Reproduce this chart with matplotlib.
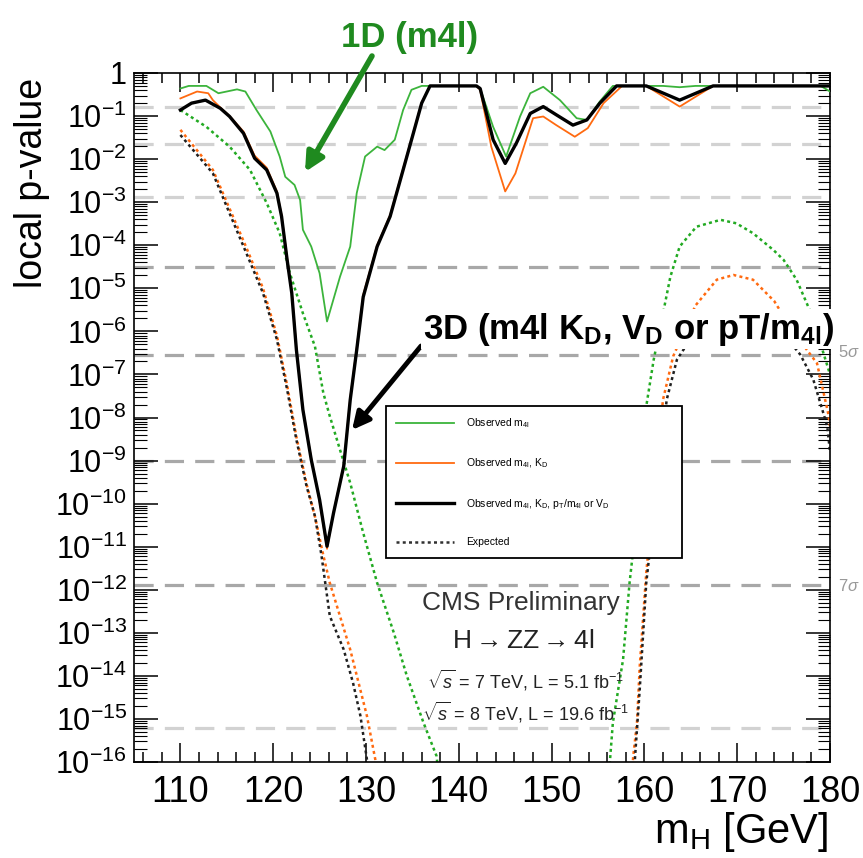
import matplotlib
matplotlib.use('Agg')
import matplotlib.pyplot as plt
from matplotlib.ticker import FixedLocator, LogLocator, NullFormatter, MultipleLocator
import numpy as np

plt.rcParams['font.family'] = ['Liberation Sans', 'DejaVu Sans']
plt.rcParams['mathtext.fontset'] = 'custom'
plt.rcParams['mathtext.rm'] = 'Liberation Sans'
plt.rcParams['mathtext.it'] = 'Liberation Sans:italic'
plt.rcParams['mathtext.bf'] = 'Liberation Sans:bold'

# observed m4l only (log10 of local p-value)
mh_obs1 = [110, 110.9, 112.8, 114.1, 116.1, 117.0, 118.2, 119.7, 120.7, 121.3, 122.3, 122.9,
           123.2, 124.1, 125.0, 125.8, 127.2, 128.3, 129.0, 129.9, 131.2, 132.0, 133.1, 134.0,
           134.9, 136.0, 141.9, 142.3, 143.7, 145.1, 146.6, 147.7, 149.1, 150.9, 152.7, 153.8,
           155.2, 156.6, 162.0, 163.8, 165.5, 179.0, 180]
lp_obs1 = [-0.36, -0.30, -0.30, -0.47, -0.38, -0.43, -0.86, -1.36, -1.94, -2.41, -2.60, -2.95,
           -3.64, -4.03, -4.65, -5.77, -4.73, -4.03, -2.79, -1.94, -1.71, -1.79, -1.55, -0.86,
           -0.39, -0.30, -0.30, -0.36, -1.25, -1.94, -1.01, -0.47, -0.32, -0.63, -1.05, -1.09,
           -0.66, -0.30, -0.30, -0.33, -0.30, -0.30, -0.43]

# observed m4l, KD
mh_obs2 = [110, 111.8, 113.0, 113.5, 114.3, 115.3, 116.8, 118.0, 119.3, 120.4, 120.9, 121.5,
           122.0, 122.5, 123.2, 124.1, 125.0, 125.8, 126.5, 127.6, 128.3, 129.0, 129.7, 131.2,
           132.6, 134.0, 135.1, 136.0, 136.9, 141.9, 142.3, 143.5, 145.0, 146.1, 148.0, 149.1,
           150.5, 152.5, 153.9, 155.6, 157.6, 160.2, 163.8, 167.4, 180]
lp_obs2 = [-0.59, -0.43, -0.47, -0.63, -0.80, -1.00, -1.36, -1.92, -2.20, -2.75, -3.30, -4.30,
           -5.05, -6.40, -7.80, -8.95, -9.95, -11.05, -10.20, -9.10, -7.55, -6.38, -5.15, -4.00,
           -3.30, -2.22, -1.38, -0.68, -0.30, -0.30, -0.39, -1.71, -2.75, -2.33, -1.05, -1.01,
           -1.21, -1.48, -1.28, -0.70, -0.30, -0.30, -0.78, -0.30, -0.30]

# observed m4l, KD, pT/m4l or VD
mh_obs3 = [110, 111.2, 112.7, 114.3, 115.3, 116.8, 118.0, 119.3, 120.4, 120.9, 121.5, 122.0,
           122.5, 123.2, 124.1, 125.0, 125.8, 126.5, 127.6, 128.3, 129.0, 129.7, 131.2, 132.6,
           134.0, 135.1, 136.0, 136.9, 141.9, 142.3, 143.7, 145.0, 146.2, 147.7, 149.1, 150.5,
           152.3, 153.8, 155.2, 157.0, 160.2, 163.8, 167.4, 180]
lp_obs3 = [-0.86, -0.70, -0.63, -0.82, -1.01, -1.40, -1.98, -2.25, -2.79, -3.33, -4.34, -5.11,
           -6.43, -7.82, -8.98, -9.91, -10.99, -10.22, -9.13, -7.59, -6.43, -5.20, -4.03, -3.33,
           -2.25, -1.40, -0.70, -0.30, -0.30, -0.36, -1.55, -2.10, -1.63, -0.94, -0.78, -0.97,
           -1.21, -1.09, -0.70, -0.30, -0.30, -0.63, -0.30, -0.30]

# expected curves
mh_exp1 = [110, 112.8, 115.3, 117.5, 119.3, 120.7, 121.8, 123.2, 124.5, 125.4, 126.1, 127.2,
           128.3, 129.7, 131.2, 133.0, 134.4, 136.2, 137.6, 138.2, 155.8, 156.3, 156.6, 157.7,
           158.4, 158.8, 160.2, 161.0, 162.8, 163.8, 165.6, 168.2, 169.9, 171.7, 173.9, 175.0,
           176.4, 178.0, 180]
lp_exp1 = [-0.86, -1.25, -1.71, -2.25, -3.02, -3.72, -4.65, -5.58, -6.35, -7.43, -7.97, -8.75,
           -9.52, -10.68, -11.84, -13.0, -14.0, -15.09, -15.86, -17, -17, -15.94, -15.09, -13.62,
           -11.84, -11.07, -7.74, -6.66, -4.73, -4.03, -3.57, -3.41, -3.49, -3.72, -4.11, -4.34,
           -4.80, -5.60, -7.0]

mh_exp2 = [110, 113.5, 115.3, 117.1, 118.9, 120.4, 121.5, 122.5, 123.6, 124.5, 125.4, 126.1,
           128.3, 130.1, 131.0, 131.4, 158.4, 158.8, 159.2, 159.5, 160.2, 162.0, 163.1, 165.5,
           167.8, 169.6, 171.7, 174.0, 176.0, 178.6, 179.8, 180]
lp_exp2 = [-1.32, -2.25, -3.15, -4.05, -5.0, -6.1, -7.25, -8.45, -9.55, -10.3, -11.2, -11.84,
           -13.39, -14.93, -15.94, -17, -17, -15.86, -15.09, -13.77, -11.6, -7.59, -6.58, -5.4,
           -4.8, -4.69, -4.8, -5.3, -6.0, -6.74, -7.9, -8.2]

mh_exp3 = [110, 113.5, 115.3, 117.1, 118.9, 120.4, 121.5, 122.5, 123.6, 124.5, 125.2, 126.1,
           127.6, 128.6, 129.4, 130.1, 130.5, 158.7, 159.0, 159.5, 160.2, 160.6, 162.4, 163.5,
           165.5, 168.0, 171.0, 174.0, 176.8, 178.2, 179.7, 180]
lp_exp3 = [-1.44, -2.33, -3.26, -4.18, -5.11, -6.19, -7.35, -8.52, -9.60, -10.29, -11.2, -12.61,
           -13.39, -14.16, -14.93, -15.94, -17, -17, -15.86, -14.3, -11.84, -11.07, -7.59, -6.66,
           -6.0, -5.6, -5.5, -5.8, -6.54, -7.12, -8.2, -8.8]

# significance lines (1..8 sigma)
sigma_p = [1.587e-1, 2.275e-2, 1.350e-3, 3.167e-5, 2.867e-7, 9.866e-10, 1.280e-12, 6.221e-16]
sigma_col = ['#d2d2d2', '#d2d2d2', '#d2d2d2', '#a8a8a8', '#a8a8a8', '#a8a8a8', '#a8a8a8', '#d2d2d2']

green = '#3cb43c'
orange = '#ff6a10'
dgreen = '#1f8a1f'

W, H = 863, 858
fig = plt.figure(figsize=(W / 100, H / 100), dpi=100)
ax = fig.add_axes([134 / W, 1 - 762 / H, 696 / W, 689 / H])

def fp(x, y):
    return (x / W, 1 - y / H)

for p, c in zip(sigma_p, sigma_col):
    ax.axhline(p, color=c, lw=2.3, dashes=(6, 3.5), zorder=1)

p = lambda a: 10 ** np.array(a)
dot = (0, (1.2, 1.3))
ax.plot(mh_exp1, p(lp_exp1), color='#22aa22', lw=1.8, ls=dot, zorder=2)
ax.plot(mh_exp2, p(lp_exp2), color=orange, lw=1.8, ls=dot, zorder=2)
ax.plot(mh_exp3, p(lp_exp3), color='#202020', lw=1.8, ls=dot, zorder=2)
ax.plot(mh_obs1, p(lp_obs1), color=green, lw=1.3, zorder=3, label=r'Observed m$_\mathregular{4l}$')
ax.plot(mh_obs2, p(lp_obs2), color=orange, lw=1.3, zorder=3, label=r'Observed m$_\mathregular{4l}$, K$_\mathregular{D}$')
ax.plot(mh_obs3, p(lp_obs3), color='black', lw=2.4, zorder=4,
        label=r'Observed m$_\mathregular{4l}$, K$_\mathregular{D}$, p$_\mathregular{T}$/m$_\mathregular{4l}$ or V$_\mathregular{D}$')
ax.plot([], [], color='#303030', lw=1.8, ls=dot, label='Expected')

ax.set_yscale('log')
ax.set_xlim(105, 180)
ax.set_ylim(1e-16, 1)
ax.xaxis.set_major_locator(MultipleLocator(10))
ax.xaxis.set_minor_locator(MultipleLocator(2))
decades = list(range(0, -17, -1))
ax.yaxis.set_major_locator(FixedLocator([10.0 ** d for d in decades]))
ax.set_yticklabels(['1'] + [r'$\mathregular{10^{%d}}$' % d for d in decades[1:]])
ax.yaxis.set_minor_locator(LogLocator(base=10, subs=np.arange(2, 10), numticks=40))
ax.yaxis.set_minor_formatter(NullFormatter())
ax.tick_params(which='both', direction='in', top=True, right=True, width=1.1)
ax.tick_params(axis='x', which='major', length=14, labelsize=26, pad=9)
ax.tick_params(axis='x', which='minor', length=7)
ax.tick_params(axis='y', which='major', length=17, labelsize=22, pad=5)
ax.tick_params(axis='y', which='minor', length=9, width=0.8)
for s in ax.spines.values():
    s.set_linewidth(1.2)

leg = ax.legend(loc='upper left', bbox_to_anchor=(0.362, 0.517, 0.425, 0.0), mode='expand',
                fontsize=7.5, handlelength=5.5, labelspacing=2.55, frameon=True, fancybox=False,
                framealpha=1, borderpad=1.0, handletextpad=1.2, borderaxespad=0)
leg.get_frame().set_edgecolor('black')
leg.get_frame().set_linewidth(1.3)
leg.set_zorder(5)

fig.text(*fp(32, 183), 'local p-value', rotation=90, ha='center', va='center', fontsize=27)
fig.text(*fp(828, 843), r'm$_\mathregular{H}$ [GeV]', ha='right', va='baseline', fontsize=30)

fig.text(*fp(521, 603), 'CMS Preliminary', ha='center', va='center', fontsize=19, color='#333333')
fig.text(*fp(523, 641), r'H$\rightarrow$ZZ$\rightarrow$4l', ha='center', va='center', fontsize=19, color='#222222')
fig.text(*fp(525, 680), r'$\sqrt{s}$ = 7 TeV, L = 5.1 fb$^\mathregular{-1}$', ha='center', va='center', fontsize=13, color='#222222')
fig.text(*fp(525, 712), r'$\sqrt{s}$ = 8 TeV, L = 19.6 fb$^\mathregular{-1}$', ha='center', va='center', fontsize=13, color='#222222')
fig.text(*fp(838, 352), r'5$\sigma$', ha='left', va='center', fontsize=12, color='#999999')
fig.text(*fp(838, 586), r'7$\sigma$', ha='left', va='center', fontsize=12, color='#999999')

fig.text(*fp(410, 37), '1D (m4l)', ha='center', va='center', fontsize=25, fontweight='bold', color=dgreen)
ax.annotate('', xy=fp(305, 172), xytext=fp(372, 56), xycoords='figure fraction',
            textcoords='figure fraction',
            arrowprops=dict(arrowstyle='-|>', lw=4, color=dgreen, mutation_scale=28, shrinkA=0, shrinkB=0))
fig.text(*fp(628, 329), r'3D (m4l K$_\mathregular{D}$, V$_\mathregular{D}$ or pT/m$_\mathregular{4l}$)',
         ha='center', va='center', fontsize=25, fontweight='bold', color='black', zorder=6,
         bbox=dict(facecolor='white', edgecolor='none', pad=1))
ax.annotate('', xy=fp(352, 430), xytext=fp(421, 346), xycoords='figure fraction',
            textcoords='figure fraction',
            arrowprops=dict(arrowstyle='-|>', lw=3.5, color='black', mutation_scale=26, shrinkA=0, shrinkB=0))

fig.savefig('out.png', dpi=100)
